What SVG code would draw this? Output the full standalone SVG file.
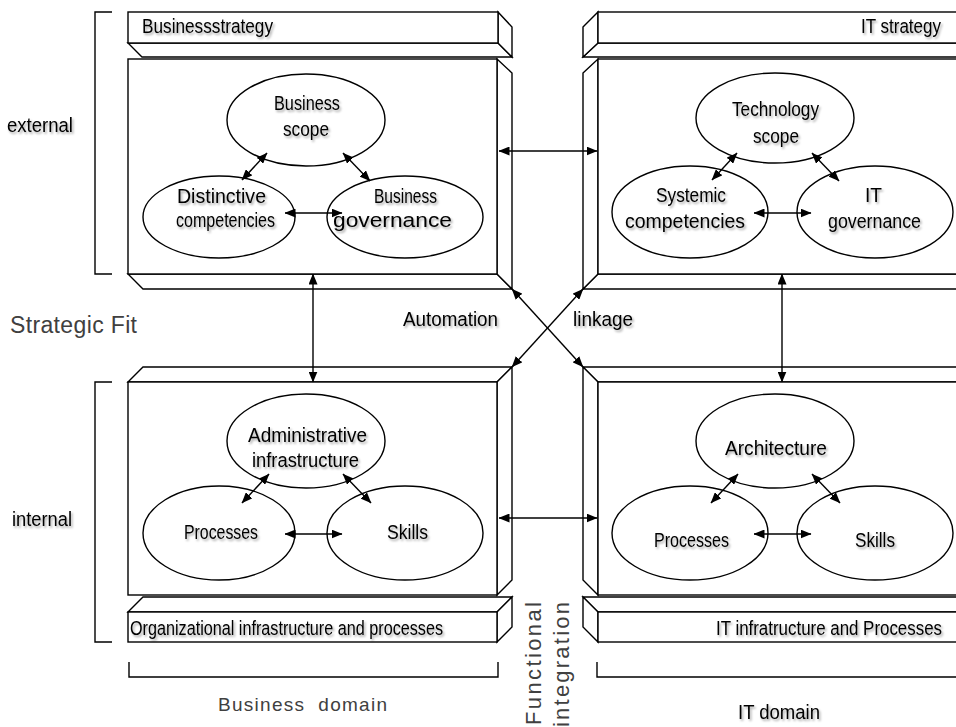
<svg xmlns="http://www.w3.org/2000/svg" width="956" height="727" viewBox="0 0 956 727">
<defs>
<marker id="ah" viewBox="0 0 11 9" refX="10.5" refY="4.5" markerWidth="11" markerHeight="9" markerUnits="userSpaceOnUse" orient="auto-start-reverse"><path d="M0,0 L11,4.5 L0,9 Z" fill="#000"/></marker>
<filter id="sh" x="-10%" y="-30%" width="130%" height="180%"><feDropShadow dx="1.5" dy="2" stdDeviation="1.2" flood-color="#000" flood-opacity="0.35"/></filter>
<filter id="sh2" x="-2%" y="-30%" width="104%" height="180%"><feDropShadow dx="1.5" dy="2" stdDeviation="1.2" flood-color="#000" flood-opacity="0.35"/></filter>
</defs>
<style>
.f{fill:#fff;stroke:#000;stroke-width:1.4;stroke-linejoin:miter}
.br{fill:none;stroke:#000;stroke-width:1.4}
.c{fill:none;stroke:#000;stroke-width:1.4;marker-start:url(#ah);marker-end:url(#ah)}
.t{font-family:"Liberation Sans",Arial,sans-serif;font-size:20.5px;fill:#000;filter:url(#sh)}
.t.e{filter:url(#sh2)}
.g{font-family:"Liberation Sans",Arial,sans-serif;fill:#404040}
</style>
<rect width="956" height="727" fill="#fff"/>

<!-- brackets -->
<g id="brackets">
<path class="br" d="M112,12 H95 V274 H112"/>
<path class="br" d="M112,382 H95 V642 H112"/>
<path class="br" d="M129,662 V677 H498 V662"/>
<path class="br" d="M597,662 V677 H956"/>
</g>

<!-- Business strategy header -->
<g id="business-strategy">
<polygon class="f" points="128,43 498,43 512,57 142,57"/>
<polygon class="f" points="498,12 512,27 512,57 498,43"/>
<rect class="f" x="128" y="12" width="370" height="31"/>
<text class="t" x="142" y="33" textLength="131" lengthAdjust="spacingAndGlyphs">Businessstrategy</text>
</g>

<!-- Business strategy main box -->
<g id="business-strategy-box">
<polygon class="f" points="128,274 497,274 512,289 143,289"/>
<polygon class="f" points="497,59 512,73 512,289 497,274"/>
<rect class="f" x="128" y="59" width="369" height="215"/>
</g>

<!-- IT strategy header -->
<g id="it-strategy">
<polygon class="f" points="598,43 957,43 957,57 583,57"/>
<polygon class="f" points="583,27 598,12 598,43 583,57"/>
<rect class="f" x="598" y="12" width="359" height="31"/>
<text class="t e" x="941" y="33" text-anchor="end" textLength="80" lengthAdjust="spacingAndGlyphs">IT strategy</text>
</g>

<!-- IT strategy main box -->
<g id="it-strategy-box">
<polygon class="f" points="598,274 957,274 957,289 583,289"/>
<polygon class="f" points="583,73 598,59 598,274 583,289"/>
<rect class="f" x="598" y="59" width="359" height="215"/>
</g>

<!-- Organizational infrastructure main box -->
<g id="org-infra-box">
<polygon class="f" points="128,382 143,367 512,367 497,382"/>
<polygon class="f" points="497,382 512,367 512,580 497,595"/>
<rect class="f" x="128" y="382" width="369" height="213"/>
</g>

<!-- Organizational infrastructure footer -->
<g id="org-infra">
<polygon class="f" points="128,612 143,597 512,597 497,612"/>
<polygon class="f" points="497,612 512,597 512,627 497,642"/>
<rect class="f" x="128" y="612" width="369" height="30"/>
<text class="t" x="130" y="635" textLength="313" lengthAdjust="spacingAndGlyphs">Organizational infrastructure and processes</text>
</g>

<!-- IT infrastructure main box -->
<g id="it-infra-box">
<polygon class="f" points="583,367 957,367 957,382 598,382"/>
<polygon class="f" points="583,367 598,382 598,595 583,580"/>
<rect class="f" x="598" y="382" width="359" height="213"/>
</g>

<!-- IT infrastructure footer -->
<g id="it-infra">
<polygon class="f" points="583,597 957,597 957,612 598,612"/>
<polygon class="f" points="583,597 598,612 598,642 583,627"/>
<rect class="f" x="598" y="612" width="359" height="30"/>
<text class="t e" x="942" y="635" text-anchor="end" textLength="226" lengthAdjust="spacingAndGlyphs">IT infratructure and Processes</text>
</g>

<!-- ellipses: business strategy -->
<g id="business-scope">
<ellipse class="f" cx="306" cy="120" rx="79" ry="46"/>
<text class="t" x="274" y="110" textLength="66" lengthAdjust="spacingAndGlyphs">Business</text>
<text class="t" x="283" y="136" textLength="46" lengthAdjust="spacingAndGlyphs">scope</text>
</g>
<g id="distinctive-competencies">
<ellipse class="f" cx="219" cy="217" rx="76" ry="41"/>
<text class="t" x="177" y="203" textLength="89" lengthAdjust="spacingAndGlyphs">Distinctive</text>
<text class="t" x="176" y="227" textLength="99" lengthAdjust="spacingAndGlyphs">competencies</text>
</g>
<g id="business-governance">
<ellipse class="f" cx="405" cy="217" rx="78" ry="41"/>
<text class="t" x="374" y="203" textLength="63" lengthAdjust="spacingAndGlyphs">Business</text>
<text class="t" x="333" y="227" textLength="119" lengthAdjust="spacingAndGlyphs">governance</text>
</g>

<!-- ellipses: IT strategy -->
<g id="technology-scope">
<ellipse class="f" cx="775" cy="118" rx="79" ry="45"/>
<text class="t" x="732" y="116" textLength="87" lengthAdjust="spacingAndGlyphs">Technology</text>
<text class="t" x="753" y="143" textLength="46" lengthAdjust="spacingAndGlyphs">scope</text>
</g>
<g id="systemic-competencies">
<ellipse class="f" cx="690" cy="212" rx="78" ry="46"/>
<text class="t" x="656" y="202" textLength="70" lengthAdjust="spacingAndGlyphs">Systemic</text>
<text class="t" x="625" y="228" textLength="120" lengthAdjust="spacingAndGlyphs">competencies</text>
</g>
<g id="it-governance">
<ellipse class="f" cx="875" cy="212" rx="78" ry="46"/>
<text class="t" x="865" y="202" textLength="17" lengthAdjust="spacingAndGlyphs">IT</text>
<text class="t" x="828" y="228" textLength="93" lengthAdjust="spacingAndGlyphs">governance</text>
</g>

<!-- ellipses: organizational infrastructure -->
<g id="administrative-infrastructure">
<ellipse class="f" cx="306" cy="441" rx="79" ry="47"/>
<text class="t" x="248" y="442" textLength="119" lengthAdjust="spacingAndGlyphs">Administrative</text>
<text class="t" x="252" y="467" textLength="107" lengthAdjust="spacingAndGlyphs">infrastructure</text>
</g>
<g id="org-processes">
<ellipse class="f" cx="219" cy="533" rx="76" ry="47"/>
<text class="t" x="184" y="539" textLength="74" lengthAdjust="spacingAndGlyphs">Processes</text>
</g>
<g id="org-skills">
<ellipse class="f" cx="405" cy="533" rx="78" ry="47"/>
<text class="t" x="387" y="539" textLength="41" lengthAdjust="spacingAndGlyphs">Skills</text>
</g>

<!-- ellipses: IT infrastructure -->
<g id="architecture">
<ellipse class="f" cx="775" cy="441" rx="79" ry="47"/>
<text class="t" x="725" y="455" textLength="102" lengthAdjust="spacingAndGlyphs">Architecture</text>
</g>
<g id="it-processes">
<ellipse class="f" cx="690" cy="533" rx="78" ry="47"/>
<text class="t" x="654" y="547" textLength="75" lengthAdjust="spacingAndGlyphs">Processes</text>
</g>
<g id="it-skills">
<ellipse class="f" cx="875" cy="533" rx="78" ry="47"/>
<text class="t" x="855" y="547" textLength="40" lengthAdjust="spacingAndGlyphs">Skills</text>
</g>

<!-- connectors -->
<g id="connectors">
<line class="c" x1="267" y1="153" x2="242" y2="180"/>
<line class="c" x1="343" y1="153" x2="370" y2="181"/>
<line class="c" x1="285" y1="213" x2="342" y2="213"/>
<line class="c" x1="737" y1="153" x2="712" y2="180"/>
<line class="c" x1="812" y1="153" x2="839" y2="181"/>
<line class="c" x1="754" y1="213" x2="811" y2="213"/>
<line class="c" x1="269" y1="474" x2="242" y2="503"/>
<line class="c" x1="343" y1="474" x2="371" y2="503"/>
<line class="c" x1="285" y1="534" x2="342" y2="534"/>
<line class="c" x1="738" y1="474" x2="711" y2="503"/>
<line class="c" x1="812" y1="474" x2="840" y2="503"/>
<line class="c" x1="754" y1="534" x2="811" y2="534"/>
<line class="c" x1="499" y1="151" x2="597" y2="151"/>
<line class="c" x1="499" y1="518" x2="597" y2="518"/>
<line class="c" x1="313" y1="274" x2="313" y2="382"/>
<line class="c" x1="782" y1="274" x2="782" y2="382"/>
<line class="c" x1="512" y1="289" x2="583" y2="367"/>
<line class="c" x1="583" y1="289" x2="512" y2="367"/>
</g>

<!-- free labels -->
<g id="labels">
<text class="t" x="7" y="132" textLength="66" lengthAdjust="spacingAndGlyphs">external</text>
<text class="t" x="12" y="526" textLength="60" lengthAdjust="spacingAndGlyphs">internal</text>
<text class="g" x="10" y="333" font-size="23" textLength="127">Strategic Fit</text>
<text class="t" x="403" y="326" textLength="95" lengthAdjust="spacingAndGlyphs">Automation</text>
<text class="t" x="573" y="326" textLength="60" lengthAdjust="spacingAndGlyphs">linkage</text>
<text class="g" x="218" y="711" font-size="19" textLength="169" xml:space="preserve">Business  domain</text>
<text class="t" x="738" y="719" textLength="82" lengthAdjust="spacingAndGlyphs">IT domain</text>
<text class="g" transform="translate(541,725) rotate(-90)" font-size="22" textLength="123">Functional</text>
<text class="g" transform="translate(569,727) rotate(-90)" font-size="22" textLength="125">integration</text>
</g>
</svg>
